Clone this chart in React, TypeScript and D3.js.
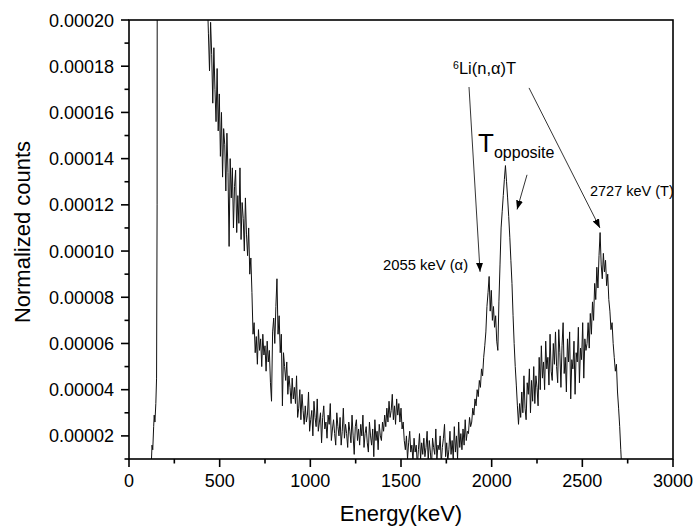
import React from 'react';
import * as d3 from 'd3';

// ---------------- DATA ----------------
// Low-energy edge of the spectrum (keV) and counts in units of 1e-5
const lowEnergies = [110, 118, 124, 127, 131, 136, 139, 143, 148, 152, 155, 158, 162, 200, 280, 360, 420, 426];
const lowCounts = [0.3, 0.6, 1.0, 1.6, 1.4, 2.4, 2.9, 2.6, 3.4, 4.5, 12, 60, 250, 320, 260, 120, 40, 24];

// Main region: channels of 6 keV starting at 432 keV, counts in units of 1e-5
const CHANNEL_START = 432;
const CHANNEL_WIDTH = 6;
const mainCounts = [
  21.0, 19.4, 17.8, 19.9, 18.5, 16.4, 18.8, 17.0, 15.6, 17.9, // 432
  15.2, 16.8, 14.1, 16.0, 13.2, 15.3, 14.6, 12.6, 15.1, 13.4, // 492
  10.2, 14.0, 12.3, 13.6, 11.0, 12.8, 13.5, 10.8, 12.4, 11.2, // 552
  13.6, 10.5, 12.1, 11.4, 10.0, 12.3, 10.7, 9.8, 11.0, 9.0, // 612
  9.7, 8.2, 6.4, 6.9, 5.6, 6.3, 5.1, 6.6, 5.7, 6.2, // 672
  5.0, 6.4, 5.5, 5.9, 4.8, 6.1, 5.2, 5.7, 4.3, 3.5, // 732
  6.5, 7.1, 6.0, 7.6, 8.8, 6.4, 7.2, 5.6, 6.4, 3.3, // 792
  5.6, 5.0, 4.4, 5.2, 3.8, 4.6, 4.1, 3.4, 4.5, 3.6, // 852
  4.1, 3.4, 4.6, 2.8, 3.2, 4.0, 2.7, 3.8, 3.1, 2.5, // 912
  3.3, 2.6, 2.9, 3.9, 2.2, 2.7, 3.1, 2.0, 3.5, 2.8, // 972
  2.4, 3.6, 2.2, 2.6, 3.0, 1.7, 2.8, 3.3, 2.3, 2.6, // 1032
  1.9, 2.9, 2.5, 3.4, 1.8, 2.3, 2.7, 2.1, 1.6, 3.0, // 1092
  2.4, 2.0, 2.8, 1.6, 2.2, 3.2, 1.9, 2.5, 2.1, 1.5, // 1152
  2.6, 2.2, 1.7, 2.9, 2.0, 1.2, 2.4, 2.7, 1.8, 2.3, // 1212
  1.6, 2.5, 2.0, 2.9, 1.5, 2.1, 2.4, 1.7, 1.3, 2.6, // 1272
  2.0, 1.6, 2.3, 1.1, 2.7, 1.8, 2.2, 1.4, 2.5, 2.0, // 1332
  1.8, 2.6, 2.2, 2.9, 2.4, 3.2, 2.6, 3.5, 2.8, 3.1, // 1392
  3.8, 2.7, 3.3, 2.5, 3.6, 2.9, 3.4, 2.6, 3.2, 2.3, // 1452
  2.6, 1.8, 1.4, 2.0, 1.0, 1.7, 2.2, 1.3, 1.6, 0.9, // 1512
  1.9, 1.3, 1.6, 0.7, 1.4, 2.1, 1.0, 1.7, 1.2, 1.9, // 1572
  1.1, 1.5, 2.2, 0.9, 1.8, 1.3, 0.6, 1.9, 1.5, 1.2, // 1632
  2.3, 1.0, 1.6, 1.4, 2.0, 0.8, 1.5, 1.9, 2.5, 1.1, // 1692
  1.7, 0.9, 1.4, 2.2, 1.2, 1.8, 1.0, 2.4, 1.3, 2.0, // 1752
  1.0, 2.6, 1.5, 2.1, 1.4, 2.3, 1.6, 2.7, 1.8, 2.2, // 1812
  2.1, 2.8, 2.4, 2.6, 3.2, 2.9, 3.6, 3.3, 4.0, 3.7, // 1872
  4.4, 4.1, 4.9, 4.6, 5.4, 5.9, 6.5, 7.6, 8.2, 8.9, // 1932
  7.4, 8.3, 7.0, 7.6, 6.7, 7.2, 6.1, 5.7, 7.8, 9.4, // 1992
  11.0, 11.7, 12.4, 13.1, 13.7, 13.0, 12.3, 11.5, 10.6, 9.6, // 2052
  8.6, 7.2, 6.0, 5.0, 4.2, 3.3, 2.5, 3.4, 2.8, 3.9, // 2112
  3.0, 4.6, 3.2, 2.7, 4.3, 3.8, 4.9, 3.0, 4.4, 3.5, // 2172
  5.0, 3.4, 4.6, 4.1, 3.3, 5.4, 4.0, 5.9, 4.5, 5.2, // 2232
  4.0, 6.1, 4.9, 5.4, 4.2, 6.4, 4.8, 4.4, 6.0, 5.1, // 2292
  6.5, 5.0, 4.3, 6.6, 5.6, 4.1, 5.9, 6.9, 4.7, 5.4, // 2352
  3.9, 6.2, 5.2, 6.5, 3.6, 5.3, 4.9, 6.1, 3.8, 5.6, // 2412
  5.2, 6.7, 4.3, 5.8, 5.3, 6.9, 4.5, 6.2, 5.7, 6.0, // 2472
  6.9, 5.8, 7.3, 6.4, 7.8, 7.0, 8.6, 7.9, 9.3, 8.4, // 2532
  9.8, 10.8, 9.4, 8.8, 9.9, 9.1, 9.6, 8.5, 9.0, 7.9, // 2592
  7.4, 6.6, 6.9, 6.0, 5.4, 4.8, 5.1, 3.9, 3.2, 2.4, // 2652
  1.4, 0.5, // 2712
];

const xMajorTicks = [0, 500, 1000, 1500, 2000, 2500, 3000];
const xMinorTicks = [250, 750, 1250, 1750, 2250, 2750];
const yMajorTicks = [2e-5, 4e-5, 6e-5, 8e-5, 10e-5, 12e-5, 14e-5, 16e-5, 18e-5, 20e-5];
const yMinorTicks = [1e-5, 3e-5, 5e-5, 7e-5, 9e-5, 11e-5, 13e-5, 15e-5, 17e-5, 19e-5];

// annotation anchors in data space (keV, counts in 1e-5)
const arrows = [
  { from: [1875, 17.1], to: [1936, 9.1] },
  { from: [2206, 17.06], to: [2597, 11.0] },
  { from: [2195, 13.3], to: [2140, 11.8] },
];

const FONT = "Arial, 'Liberation Sans', Helvetica, sans-serif";

export default function App() {
  const W = 693;
  const H = 530;
  const left = 129, right = 673, top = 20, bottom = 459;
  const x = d3.scaleLinear().domain([0, 3000]).range([left, right]);
  const y = d3.scaleLinear().domain([1e-5, 2e-4]).range([bottom, top]);

  const data: [number, number][] = [
    ...lowEnergies.map((e, i) => [e, lowCounts[i] * 1e-5] as [number, number]),
    ...mainCounts.map((c, i) => [CHANNEL_START + i * CHANNEL_WIDTH, c * 1e-5] as [number, number]),
  ];
  const line = d3.line<[number, number]>().x(d => x(d[0])).y(d => y(d[1]));
  const fmt = d3.format('.5f');
  const ax = (e: number) => x(e);
  const ay = (v5: number) => y(v5 * 1e-5);

  return (
    <svg width={W} height={H} style={{ position: 'absolute', left: 0, top: 0, background: '#fff' }} fontFamily={FONT}>
      <defs>
        <clipPath id="plotclip">
          <rect x={left} y={top} width={right - left} height={bottom - top} />
        </clipPath>
        <marker id="arrowhead" markerUnits="userSpaceOnUse" markerWidth={10} markerHeight={8} refX={9} refY={3.5} orient="auto">
          <path d="M0,0 L9,3.5 L0,7 Z" fill="#000" />
        </marker>
      </defs>
      <rect x={0} y={0} width={W} height={H} fill="#fff" />

      <g clipPath="url(#plotclip)">
        <path d={line(data) || ''} fill="none" stroke="#111" strokeWidth={1} strokeLinejoin="miter" />
      </g>

      {/* frame */}
      <rect x={left} y={top} width={right - left} height={bottom - top} fill="none" stroke="#000" strokeWidth={1.6} />

      {/* x ticks */}
      {xMajorTicks.map(t => (
        <g key={'xM' + t}>
          <line x1={x(t)} x2={x(t)} y1={bottom} y2={bottom + 8} stroke="#000" strokeWidth={1.6} />
          <text x={x(t)} y={bottom + 28} fontSize={18} textAnchor="middle" fill="#000">{t}</text>
        </g>
      ))}
      {xMinorTicks.map(t => (
        <line key={'xm' + t} x1={x(t)} x2={x(t)} y1={bottom} y2={bottom + 4.5} stroke="#000" strokeWidth={1.6} />
      ))}

      {/* y ticks */}
      {yMajorTicks.map(t => (
        <g key={'yM' + t}>
          <line x1={left - 8} x2={left} y1={y(t)} y2={y(t)} stroke="#000" strokeWidth={1.6} />
          <text x={left - 15} y={y(t) + 6.5} fontSize={18} textAnchor="end" fill="#000">{fmt(t)}</text>
        </g>
      ))}
      {yMinorTicks.map(t => (
        <line key={'ym' + t} x1={left - 4.5} x2={left} y1={y(t)} y2={y(t)} stroke="#000" strokeWidth={1.6} />
      ))}

      {/* axis titles */}
      <text x={(left + right) / 2} y={521} fontSize={22} textAnchor="middle" fill="#000">Energy(keV)</text>
      <text transform={`translate(29.5, 232) rotate(-90)`} fontSize={22} textAnchor="middle" fill="#000">Normalized counts</text>

      {/* annotations */}
      {arrows.map((a, i) => (
        <line key={'ar' + i} x1={ax(a.from[0])} y1={ay(a.from[1])} x2={ax(a.to[0])} y2={ay(a.to[1])}
          stroke="#000" strokeWidth={0.8} markerEnd="url(#arrowhead)" />
      ))}
      <text x={ax(1401)} y={ay(9.18)} fontSize={14.8} fill="#000">2055 keV (α)</text>
      <text x={ax(2542)} y={ay(12.38)} fontSize={14.5} fill="#000">2727 keV (T)</text>
      <text x={ax(1787)} y={ay(17.66)} fontSize={16.5} fill="#000">
        <tspan fontSize={10.5} dy={-5}>6</tspan>
        <tspan dy={5}>Li(n,α)T</tspan>
      </text>
      <text x={ax(1925)} y={ay(14.29)} fill="#000">
        <tspan fontSize={26}>T</tspan>
        <tspan fontSize={16} dy={6}>opposite</tspan>
      </text>
    </svg>
  );
}
